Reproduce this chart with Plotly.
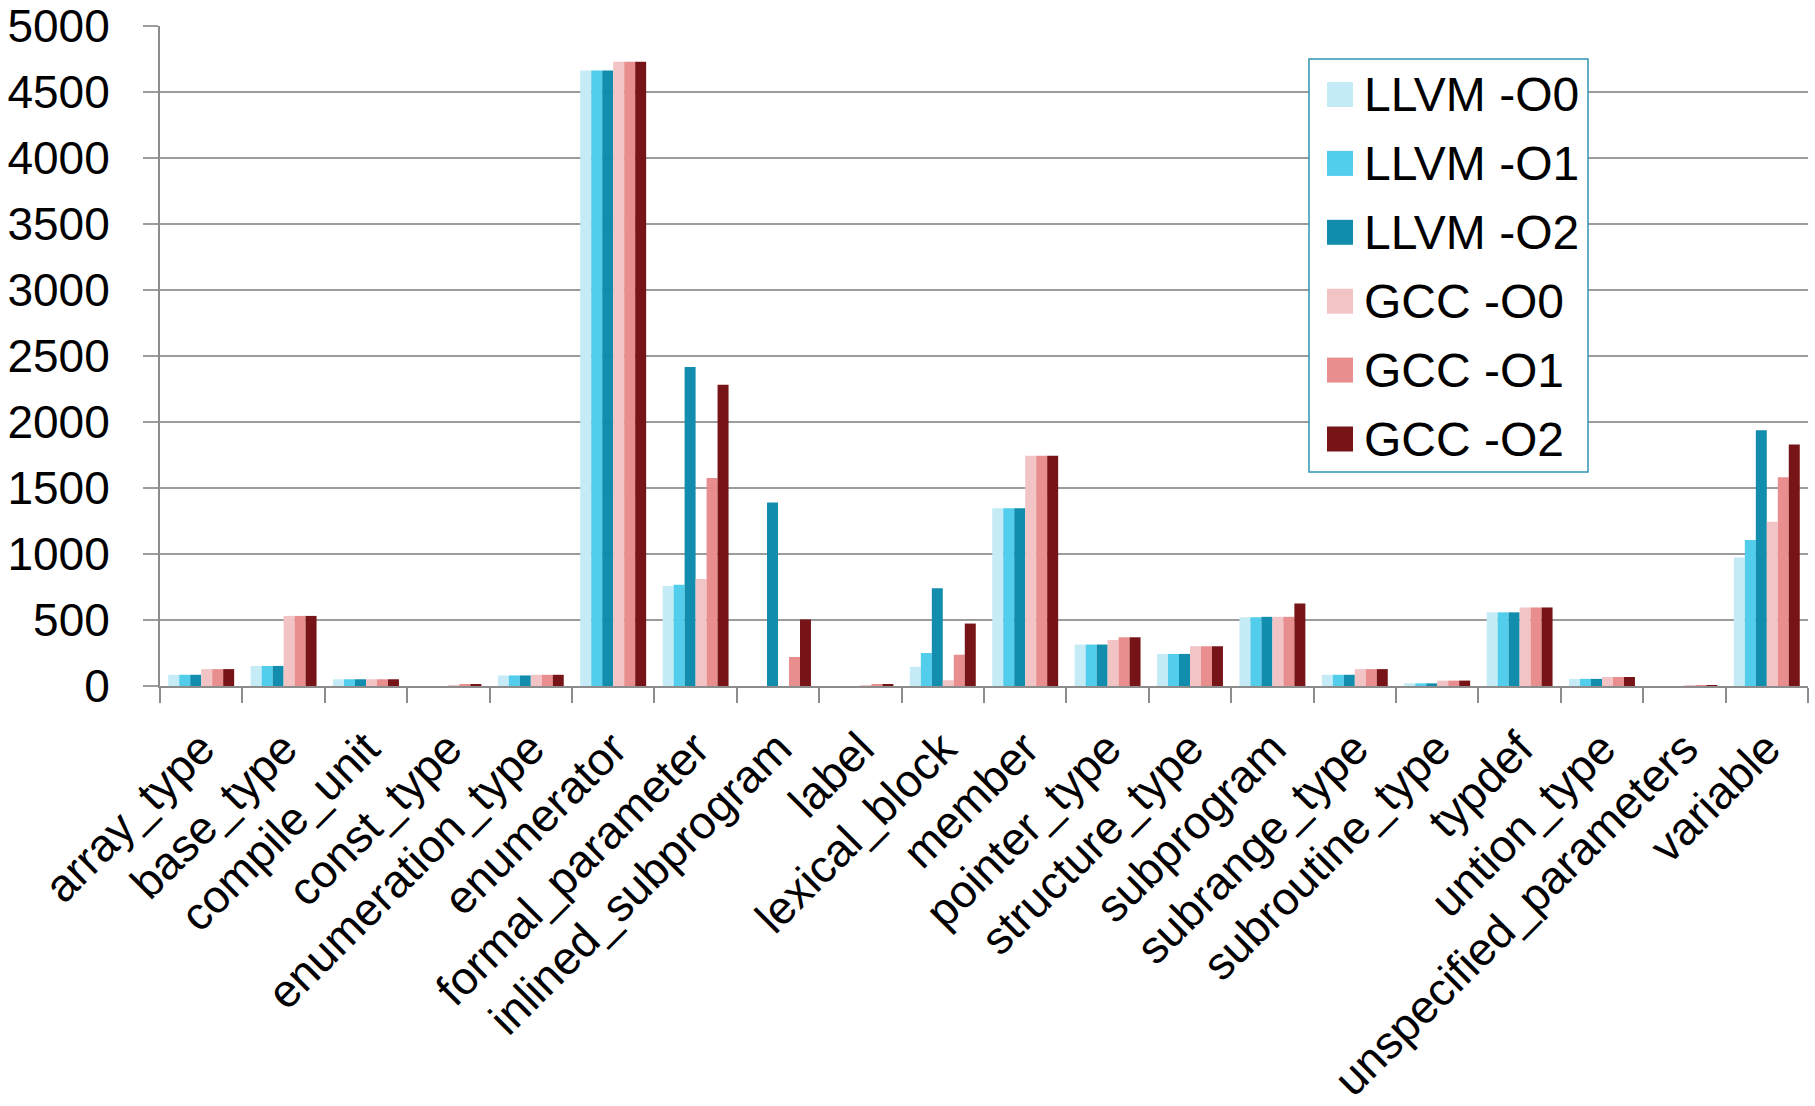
import plotly.graph_objects as go

# DWARF DIE tag counts per compiler / optimisation level
categories = [
    "array_type", "base_type", "compile_unit", "const_type", "enumeration_type",
    "enumerator", "formal_parameter", "inlined_subprogram", "label", "lexical_block",
    "member", "pointer_type", "structure_type", "subprogram", "subrange_type",
    "subroutine_type", "typdef", "untion_type", "unspecified_parameters", "variable",
]

llvm_o0 = [85, 152, 51, 0, 80, 4662, 757, 0, 0, 145, 1346, 314, 243, 521, 85, 20, 558, 54, 0, 974]
llvm_o1 = [85, 152, 51, 0, 80, 4662, 767, 0, 0, 250, 1346, 314, 243, 521, 85, 20, 558, 54, 0, 1106]
llvm_o2 = [85, 152, 51, 0, 80, 4662, 2417, 1390, 0, 740, 1346, 314, 243, 524, 85, 20, 558, 54, 0, 1937]
gcc_o0 = [128, 531, 51, 5, 85, 4730, 811, 0, 5, 44, 1745, 348, 301, 524, 128, 41, 595, 68, 2, 1244]
gcc_o1 = [128, 531, 51, 15, 85, 4730, 1575, 220, 10, 237, 1745, 369, 301, 524, 128, 41, 595, 68, 2, 1582]
gcc_o2 = [128, 531, 51, 15, 85, 4730, 2282, 504, 10, 473, 1745, 369, 301, 625, 128, 41, 595, 68, 3, 1829]

series_names = ["LLVM -O0", "LLVM -O1", "LLVM -O2", "GCC -O0", "GCC -O1", "GCC -O2"]
series_values = [llvm_o0, llvm_o1, llvm_o2, gcc_o0, gcc_o1, gcc_o2]
series_colors = ["#C5ECF6", "#52CDEB", "#128DAD", "#F3C4C6", "#E88E8F", "#771417"]

y_ticks = [0, 500, 1000, 1500, 2000, 2500, 3000, 3500, 4000, 4500, 5000]

FONT = "Liberation Sans, Arial, sans-serif"
W, H = 1815, 1106
L, R, T, B = 160, 7, 26, 420
PW, PH = W - L - R, H - T - B

fig = go.Figure()
for name, vals, col in zip(series_names, series_values, series_colors):
    fig.add_trace(go.Bar(
        x=categories, y=vals, name=name,
        marker=dict(color=col, line=dict(width=0)),
        showlegend=False,
    ))


def px_x(x):
    return (x - L) / PW


def px_y(y):
    return 1 - (y - T) / PH


# legend box drawn on the paper
shapes = [dict(
    type="rect", xref="paper", yref="paper",
    x0=px_x(1309), x1=px_x(1588), y0=px_y(472), y1=px_y(59),
    line=dict(color="#2E95B2", width=1.5), fillcolor="white", layer="above",
)]
annotations = []
for i, (name, col) in enumerate(zip(series_names, series_colors)):
    cy = 94.5 + 68.9 * i
    shapes.append(dict(
        type="rect", xref="paper", yref="paper",
        x0=px_x(1327), x1=px_x(1353), y0=px_y(cy + 12.5), y1=px_y(cy - 12.5),
        line=dict(width=0), fillcolor=col, layer="above",
    ))
    annotations.append(dict(
        xref="paper", yref="paper", x=px_x(1362), y=px_y(cy),
        xanchor="left", yanchor="middle", showarrow=False,
        text=name, font=dict(family=FONT, size=48, color="black"),
    ))

fig.update_layout(
    width=W, height=H,
    margin=dict(l=L, r=R, t=T, b=B, pad=0, autoexpand=False),
    paper_bgcolor="white", plot_bgcolor="white",
    barmode="group", bargap=0.2, bargroupgap=0,
    showlegend=False,
    shapes=shapes, annotations=annotations,
    font=dict(family=FONT, color="black"),
)
fig.update_xaxes(
    type="category", categoryorder="array", categoryarray=categories,
    tickangle=-45, tickfont=dict(family=FONT, size=46, color="black"),
    showgrid=False, showline=True, linecolor="#8C8C8C", linewidth=2,
    ticks="outside", tickson="boundaries", ticklen=15, tickwidth=2, tickcolor="#8C8C8C",
    ticklabelstandoff=15, ticklabeloverflow="allow", zeroline=False, automargin=False,
)
fig.update_yaxes(
    range=[0, 5000], tickvals=y_ticks, ticktext=[str(v) for v in y_ticks],
    tickfont=dict(family=FONT, size=46, color="black"),
    showgrid=True, gridcolor="#9C9C9C", gridwidth=2,
    showline=True, linecolor="#8C8C8C", linewidth=2,
    ticks="outside", ticklen=15, tickwidth=2, tickcolor="#9C9C9C",
    ticklabelstandoff=24, ticklabeloverflow="allow", zeroline=False, automargin=False,
)

fig.write_html("out.html")
